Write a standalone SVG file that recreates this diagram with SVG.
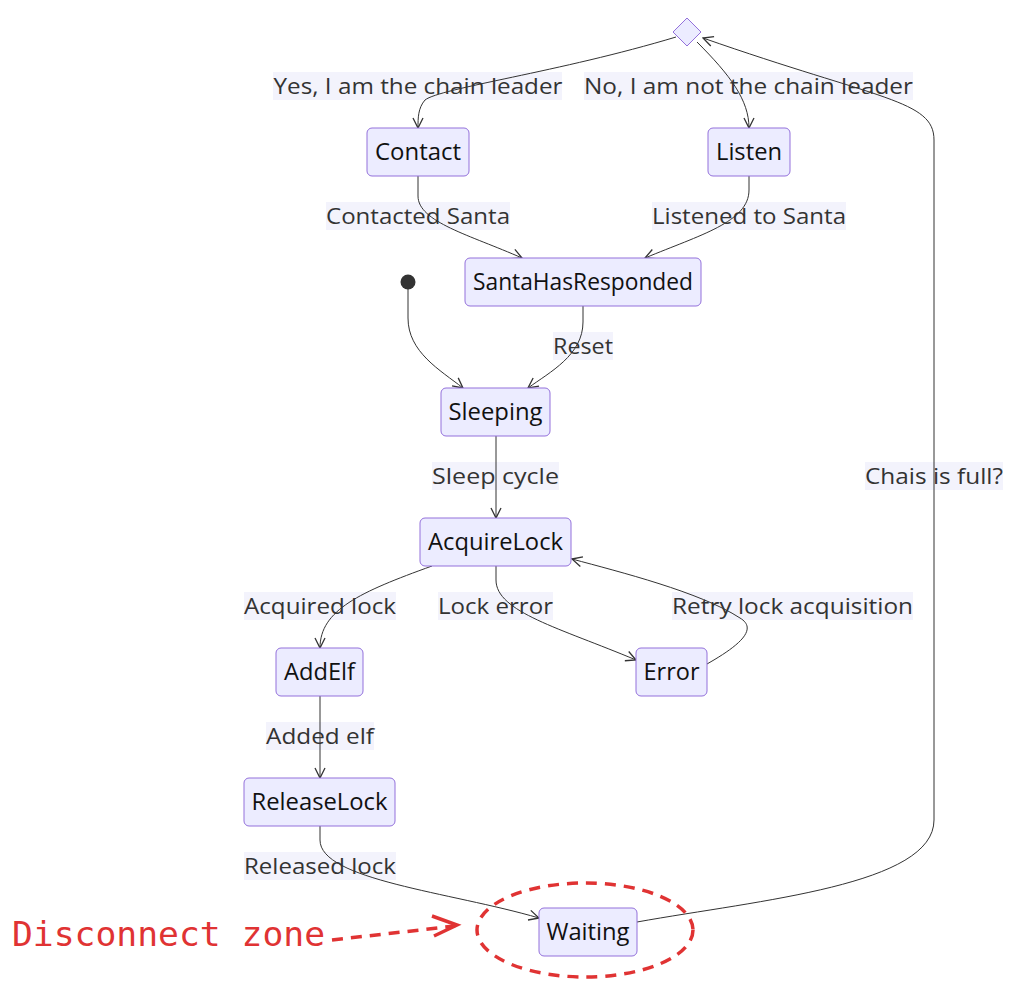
<svg xmlns="http://www.w3.org/2000/svg" width="1021" height="986" viewBox="0 0 1021 986">
<defs>
<style>
.node rect{fill:#ECECFF;stroke:#9370DB;stroke-width:1}
.node text{font-family:"Open Sans","Liberation Sans",sans-serif;font-size:23px;fill:#111;text-anchor:middle;dominant-baseline:central}
.edge{fill:none;stroke:#333;stroke-width:1}
.lbl rect{fill:#f3f3fc}
.lbl text{font-family:"Open Sans","Liberation Sans",sans-serif;font-size:22px;fill:#333;text-anchor:middle;dominant-baseline:central}
.red{fill:none;stroke:#e03333;stroke-width:3.5;stroke-dasharray:11 8}
</style>
<marker id="arr" viewBox="0 0 12 12" refX="11" refY="6" markerWidth="12" markerHeight="12" markerUnits="userSpaceOnUse" orient="auto">
<path d="M1,1 L11,6 L1,11" fill="none" stroke="#333" stroke-width="1.3"/>
</marker>
</defs>
<rect width="1021" height="986" fill="#fff"/>

<g id="labels" class="lbl">
<rect x="273" y="72" width="289" height="28"/><text x="418" y="84.5" textLength="289" lengthAdjust="spacingAndGlyphs">Yes, I am the chain leader</text>
<rect x="584" y="72" width="329" height="28"/><text x="748.5" y="84.5" textLength="329" lengthAdjust="spacingAndGlyphs">No, I am not the chain leader</text>
<rect x="326" y="202" width="184" height="28"/><text x="418" y="214.5" textLength="184" lengthAdjust="spacingAndGlyphs">Contacted Santa</text>
<rect x="652" y="202" width="194" height="28"/><text x="749" y="214.5" textLength="194" lengthAdjust="spacingAndGlyphs">Listened to Santa</text>
<rect x="553" y="332" width="60" height="28"/><text x="583" y="344.5" textLength="60" lengthAdjust="spacingAndGlyphs">Reset</text>
<rect x="432" y="462" width="127" height="28"/><text x="495.5" y="474.5" textLength="127" lengthAdjust="spacingAndGlyphs">Sleep cycle</text>
<rect x="865" y="462" width="138" height="28"/><text x="934" y="474.5" textLength="138" lengthAdjust="spacingAndGlyphs">Chais is full?</text>
<rect x="244" y="592" width="152" height="28"/><text x="320" y="604.5" textLength="152" lengthAdjust="spacingAndGlyphs">Acquired lock</text>
<rect x="438" y="592" width="115" height="28"/><text x="495.5" y="604.5" textLength="115" lengthAdjust="spacingAndGlyphs">Lock error</text>
<rect x="672" y="592" width="241" height="28"/><text x="792.5" y="604.5" textLength="241" lengthAdjust="spacingAndGlyphs">Retry lock acquisition</text>
<rect x="266" y="722" width="108" height="28"/><text x="320" y="734.5" textLength="108" lengthAdjust="spacingAndGlyphs">Added elf</text>
<rect x="244" y="852" width="152" height="28"/><text x="320" y="864.5" textLength="152" lengthAdjust="spacingAndGlyphs">Released lock</text>
</g>

<g id="connectors">
<path class="edge" marker-end="url(#arr)" d="M676,37 C560,72 440,88 425,100 C418,108 418,118 418,128"/>
<path class="edge" marker-end="url(#arr)" d="M697,42 C730,75 749,100 749,128"/>
<path class="edge" marker-end="url(#arr)" d="M637,922 C760,900 934,885 934,820 L934,140 C934,100 880,100 703,38"/>
<path class="edge" marker-end="url(#arr)" d="M418,176 L418,196 C418,222 470,235 522,258"/>
<path class="edge" marker-end="url(#arr)" d="M749,176 L749,190 C749,222 700,235 645,258"/>
<path class="edge" marker-end="url(#arr)" d="M408,289 L408,318 C408,352 440,370 463,388"/>
<path class="edge" marker-end="url(#arr)" d="M583,306 L583,322 C583,355 550,372 528,388"/>
<path class="edge" marker-end="url(#arr)" d="M496,436 L496,518"/>
<path class="edge" marker-end="url(#arr)" d="M432,566 C360,592 320,610 320,648"/>
<path class="edge" marker-end="url(#arr)" d="M496,566 L496,580 C496,612 560,628 636,660"/>
<path class="edge" marker-end="url(#arr)" d="M707,664 C735,648 760,630 740,618 C700,592 620,572 572,559"/>
<path class="edge" marker-end="url(#arr)" d="M320,696 L320,778"/>
<path class="edge" marker-end="url(#arr)" d="M320,826 L320,840 C320,880 450,892 539,918"/>
</g>

<g id="choice"><path d="M687,18 L701,32 L687,46 L673,32 Z" fill="#ECECFF" stroke="#9370DB"/></g>
<g id="start"><circle cx="408" cy="282" r="7.5" fill="#333"/></g>
<g id="Contact" class="node"><rect x="367" y="128" width="102" height="48" rx="5"/><text x="418" y="150.5" textLength="86" lengthAdjust="spacingAndGlyphs">Contact</text></g>
<g id="Listen" class="node"><rect x="708" y="128" width="82" height="48" rx="5"/><text x="749" y="150.5" textLength="66" lengthAdjust="spacingAndGlyphs">Listen</text></g>
<g id="SantaHasResponded" class="node"><rect x="465" y="258" width="236" height="48" rx="5"/><text x="583" y="280.5" textLength="220" lengthAdjust="spacingAndGlyphs">SantaHasResponded</text></g>
<g id="Sleeping" class="node"><rect x="441" y="388" width="109" height="48" rx="5"/><text x="495.5" y="410.5" textLength="94" lengthAdjust="spacingAndGlyphs">Sleeping</text></g>
<g id="AcquireLock" class="node"><rect x="420" y="518" width="151" height="48" rx="5"/><text x="495.5" y="540.5" textLength="135" lengthAdjust="spacingAndGlyphs">AcquireLock</text></g>
<g id="AddElf" class="node"><rect x="276" y="648" width="87" height="48" rx="5"/><text x="319.5" y="670.5" textLength="71" lengthAdjust="spacingAndGlyphs">AddElf</text></g>
<g id="Error" class="node"><rect x="636" y="648" width="71" height="48" rx="5"/><text x="671.5" y="670.5" textLength="56" lengthAdjust="spacingAndGlyphs">Error</text></g>
<g id="ReleaseLock" class="node"><rect x="244" y="778" width="151" height="48" rx="5"/><text x="319.5" y="800.5" textLength="136" lengthAdjust="spacingAndGlyphs">ReleaseLock</text></g>
<g id="Waiting" class="node"><rect x="539" y="908" width="98" height="48" rx="5"/><text x="588" y="930.5" textLength="83" lengthAdjust="spacingAndGlyphs">Waiting</text></g>

<g id="annotation">
<text x="12" y="946" font-family="'DejaVu Sans Mono','Liberation Mono',monospace" font-size="34" fill="#e03333" textLength="313" lengthAdjust="spacingAndGlyphs">Disconnect zone</text>
<path class="red" d="M332,940 L455,926"/>
<path d="M432,916 L457,925 L434,936" fill="none" stroke="#e03333" stroke-width="3.5"/>
<ellipse class="red" cx="585" cy="930" rx="108" ry="47"/>
</g>
</svg>
